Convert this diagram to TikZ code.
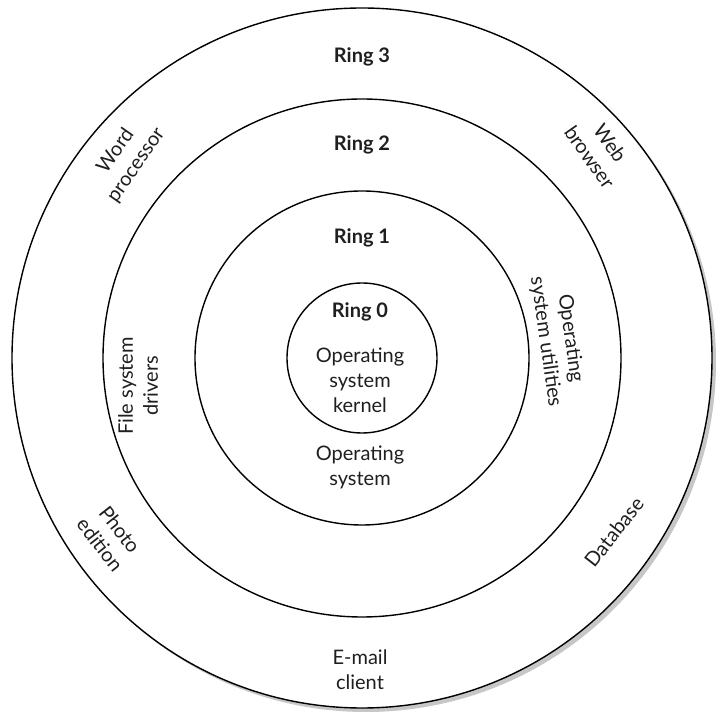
\documentclass[tikz,border=0pt]{standalone}
\usepackage{fontspec}
\setmainfont{Lato}
\usetikzlibrary{positioning}
\tikzset{
  ring/.style={draw, circle, line width=0.7pt, inner sep=0pt, fill=white},
  shade/.style={circle, inner sep=0pt, fill=black!22},
  txt/.style={align=center, font=\fontsize{10}{12.5}\selectfont, text=black!88, inner sep=1pt},
  ringlbl/.style={txt, font=\fontsize{10}{12.5}\selectfont\bfseries}
}
\begin{document}
\begin{tikzpicture}[x=0.5pt, y=-0.5pt]
\useasboundingbox (0,0) rectangle (718,715);
\coordinate (c) at (362,358);
% rings, outer one with its shadow
\node[shade, minimum size=350pt] (sh) at ([xshift=2pt, yshift=-2pt]c) {};
\node[ring, minimum size=350pt] (r3) at (c) {};
\node[ring, minimum size=259pt] (r2) at (c) {};
\node[ring, minimum size=167pt] (r1) at (c) {};
\node[ring, minimum size=75pt] (r0) at (c) {};
% ring names
\node[ringlbl] (n3) at (362,57) {Ring 3};
\node[ringlbl] (n2) at (362,145) {Ring 2};
\node[ringlbl] (n1) at (362,238) {Ring 1};
\node[ringlbl] (n0) at (360,312) {Ring 0};
% ring 0
\node[txt] (kern) at (360,380) {Operating\\system\\kernel};
% ring 1
\node[txt] (os) at (360,467) {Operating\\system};
\node[txt, rotate=90] (fsd) at (138,386) {File system\\drivers};
\node[txt, rotate=-82] (util) at (558,340) {Operating\\system utilities};
% ring 3
\node[txt, rotate=55] (word) at (126,158) {Word\\processor};
\node[txt, rotate=-55] (web) at (600,150) {Web\\browser};
\node[txt, rotate=-52] (photo) at (110,537) {Photo\\edition};
\node[txt, rotate=52] (db) at (614,532) {Database};
\node[txt] (mail) at (360,670) {E-mail\\client};
\end{tikzpicture}
\end{document}
